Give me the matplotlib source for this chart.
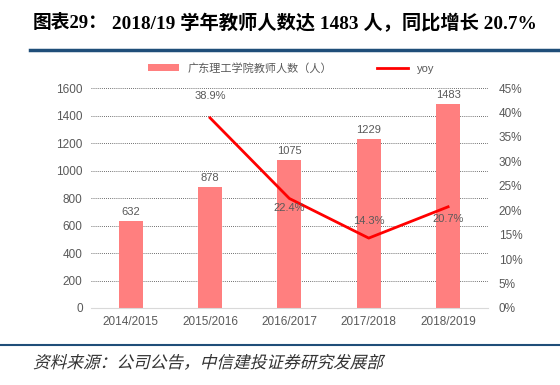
import numpy as np
import matplotlib
matplotlib.use("Agg")
import matplotlib.pyplot as plt
from matplotlib.ticker import FuncFormatter
from matplotlib.textpath import TextPath
from matplotlib.patches import PathPatch
from matplotlib.font_manager import FontProperties
from matplotlib.transforms import Affine2D

plt.rcParams['font.family'] = ['Arial', 'Liberation Sans', 'Noto Sans CJK SC', 'DejaVu Sans']

# data
years = ["2014/2015", "2015/2016", "2016/2017", "2017/2018", "2018/2019"]
teachers = [632, 878, 1075, 1229, 1483]
yoy_years = ["2015/2016", "2016/2017", "2017/2018", "2018/2019"]
yoy = [38.9, 22.4, 14.3, 20.7]

bar_color = "#FF7F7F"
line_color = "#FF0000"
gray = "#595959"

fig = plt.figure(figsize=(5.6, 3.85), dpi=100)
ax = fig.add_axes([0.1625, 0.2, 0.7085, 0.5714])
x = np.arange(len(years))
ax.bar(x, teachers, width=0.3, color=bar_color, zorder=2, label="广东理工学院教师人数（人）")
ax.set_xlim(-0.5, len(years) - 0.5)
ax.set_ylim(0, 1600)
ax.set_yticks(np.arange(0, 1601, 200))
ax.set_xticks(x)
ax.set_xticklabels(years)
ax.yaxis.grid(True, linestyle=(0, (1, 1.5)), color="#404040", linewidth=0.6, zorder=0)
for s in ["top", "left", "right"]:
    ax.spines[s].set_visible(False)
ax.spines["bottom"].set_color("#D9D9D9")
ax.tick_params(length=0, labelsize=8.5, colors=gray, pad=6)
for xi, v in zip(x, teachers):
    ax.text(xi, v + 30, str(v), ha="center", va="bottom", fontsize=8, color=gray)

ax2 = ax.twinx()
xi_yoy = [years.index(y) for y in yoy_years]
ax2.plot(xi_yoy, yoy, color=line_color, linewidth=2, label="yoy", zorder=3)
ax2.set_ylim(0, 45)
ax2.set_yticks(np.arange(0, 46, 5))
ax2.yaxis.set_major_formatter(FuncFormatter(lambda v, p: f"{v:.0f}%"))
for s in ["top", "left", "right", "bottom"]:
    ax2.spines[s].set_visible(False)
ax2.tick_params(length=0, labelsize=8.5, colors=gray, pad=8)
yoy_offsets = [4.5, -2, 3.5, -2.5]
for xi, v, off in zip(xi_yoy, yoy, yoy_offsets):
    ax2.text(xi, v + off, f"{v}%", ha="center", va="center", fontsize=8, color=gray)

h1, l1 = ax.get_legend_handles_labels()
h2, l2 = ax2.get_legend_handles_labels()
fig.legend(h1 + h2, l1 + l2, loc="center", bbox_to_anchor=(0.52, 0.823), ncol=2,
           frameon=False, fontsize=8, labelcolor=gray, handlelength=2.8,
           handleheight=0.5, columnspacing=4)

# title and rules
title_font = ['Liberation Serif', 'Noto Sans CJK SC']
fig.text(0.059, 0.94, "图表29：", fontsize=13.5, fontweight="bold",
         family=title_font, va="center")
fig.text(0.2, 0.94, "2018/19 学年教师人数达 1483 人，同比增长 20.7%", fontsize=13.9,
         fontweight="bold", family=title_font, va="center")
fig.add_artist(plt.Line2D([0.054, 1.0], [0.871, 0.871], color="#1F4E79", linewidth=2.5))
fig.add_artist(plt.Line2D([0.0, 1.0], [0.104, 0.104], color="#1F4E79", linewidth=1.5))

# italic source note (CJK font has no italic, so skew the text path)
src = "资料来源：公司公告，中信建投证券研究发展部"
tp = TextPath((0, 0), src, size=12, prop=FontProperties(family='Noto Sans CJK SC'))
tr = Affine2D().skew_deg(14, 0).scale(1 / 72).translate(0.33, 0.17) + fig.dpi_scale_trans
fig.add_artist(PathPatch(tp, transform=tr, facecolor="#333333", edgecolor="none"))

fig.savefig("out.png", dpi=100)
